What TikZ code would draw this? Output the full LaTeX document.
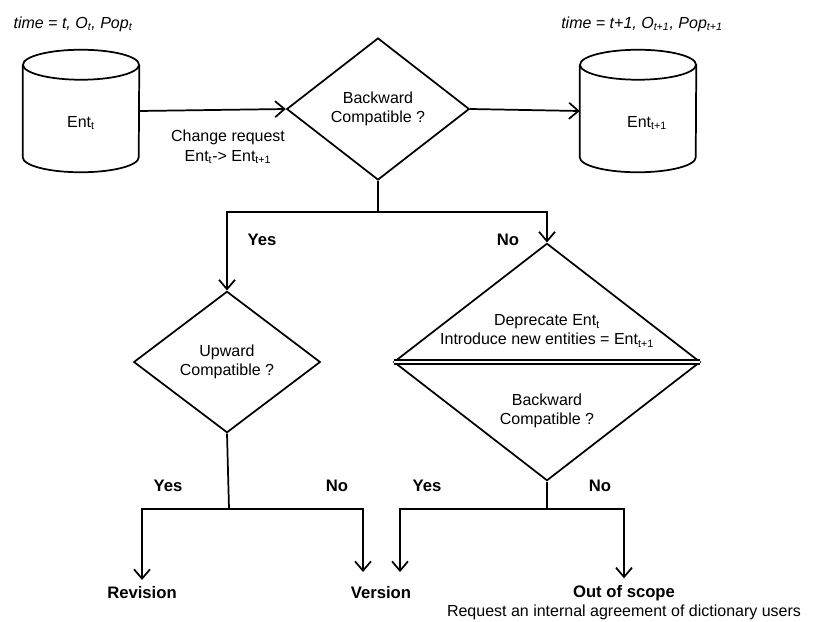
\documentclass[tikz,border=0pt]{standalone}
\usepackage{fontspec}
\setmainfont{Liberation Sans}
\usetikzlibrary{shapes.geometric,arrows.meta}
\tikzset{
  base/.style={line width=1.3pt},
  flow/.style={base, -{Straight Barb[length=7pt,width=12pt]}},
  store/.style={minimum width=87pt, minimum height=91.5pt, inner sep=0pt},
  decide/.style={base, draw, diamond, inner sep=0pt, align=center},
  answer/.style={font=\fontsize{12.5}{15}\selectfont\bfseries},
  result/.style={font=\fontsize{12.5}{15}\selectfont\bfseries, inner sep=5pt},
}
% cylinder outline round a store node
\newcommand\drumaround[1]{%
  \draw[base] ([yshift=-11.25pt]#1.north west) -- ([yshift=11.25pt]#1.south west)
    arc[start angle=180, end angle=360, x radius=43.5pt, y radius=11.25pt]
    -- ([yshift=-11.25pt]#1.north east);
  \draw[base] ([yshift=-11.25pt]#1.north) ellipse[x radius=43.5pt, y radius=11.25pt];}
\begin{document}
\begin{tikzpicture}[x=0.75pt,y=-0.75pt,font=\fontsize{12}{14.5}\selectfont]
\useasboundingbox (0,0) rectangle (813,621);
% time labels
\node (tnow) at (73,24) {\itshape time = t, O\textsubscript{t}, Pop\textsubscript{t}};
\node (tnext) at (642,24) {\itshape time = t+1, O\textsubscript{t+1}, Pop\textsubscript{t+1}};
% entities
\node[store] (entt) at (81,111) {};
\node[store] (entn) at (638,111) {};
\drumaround{entt}
\drumaround{entn}
\node (enttxt) at (81,123) {Ent\textsubscript{t}};
\node (entntxt) at (647,123) {Ent\textsubscript{t+1}};
% decisions
\node[decide, minimum width=137pt, minimum height=106.5pt] (bc) at (378,109) {Backward\\Compatible ?};
\node[decide, minimum width=140pt, minimum height=106pt] (uc) at (227,362) {Upward\\Compatible ?};
\node[decide, minimum width=230pt, minimum height=178pt] (dep) at (547,362) {};
\node[align=center] (deptxt) at (547,331) {Deprecate Ent\textsubscript{t}\\Introduce new entities = Ent\textsubscript{t+1}};
\node[align=center] (bc2) at (547,411) {Backward\\Compatible ?};
\draw[base, double, double distance=1.5pt, shorten <=1pt, shorten >=1pt] (dep.west) -- (dep.east);
% change request
\draw[flow] (entt.east) -- (bc.west);
\node[align=center] (req) at (228,147) {Change request\\Ent\textsubscript{t}-> Ent\textsubscript{t+1}};
\draw[flow] (bc.east) -- (entn.west);
% first split
\coordinate (j1) at (378,212);
\draw[base] (bc.south) -- (j1);
\draw[flow] (j1) -| (uc.north);
\draw[flow] (j1) -| (dep.north);
\node[answer] (y1) at (262,240) {Yes};
\node[answer] (n1) at (508,240) {No};
% results
\node[result] (rev) at (142,593) {Revision};
\node[result] (ver) at (381,593) {Version};
\node[result] (oos) at (624,593) {Out of scope};
\node (oosnote) at (624,612) {Request an internal agreement of dictionary users};
\coordinate (verL) at (363,572);
\coordinate (verR) at (400,572);
% upward split
\coordinate (j2) at (229,509);
\draw[base] (uc.south) -- (j2);
\draw[flow] (j2) -| (rev.north);
\draw[flow] (j2) -| (verL);
\node[answer] (y2) at (168,486) {Yes};
\node[answer] (n2) at (337,486) {No};
% backward split
\coordinate (j3) at (547,509);
\draw[base] (dep.south) -- (j3);
\draw[flow] (j3) -| (verR);
\draw[flow] (j3) -| (oos.north);
\node[answer] (y3) at (427,486) {Yes};
\node[answer] (n3) at (600,486) {No};
\end{tikzpicture}
\end{document}
